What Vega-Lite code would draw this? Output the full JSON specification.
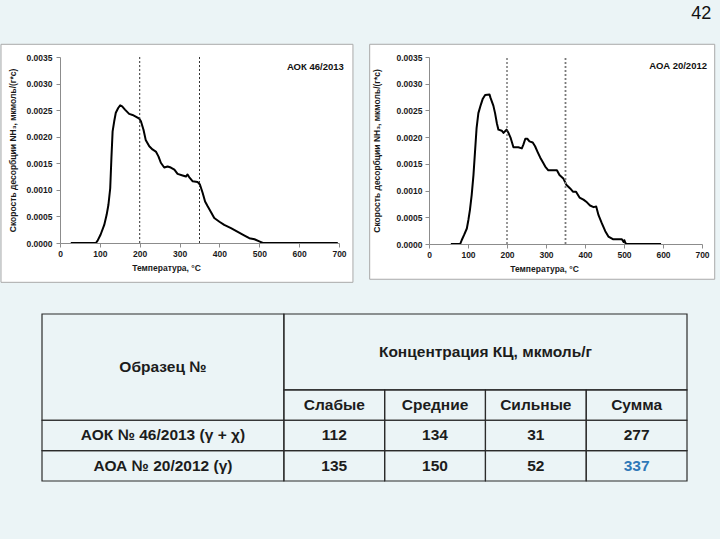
{
  "$schema": "https://vega.github.io/schema/vega-lite/v6.json",
  "background": "#EBF4F6",
  "padding": {"left": 0, "top": 4, "right": 6, "bottom": 57},
  "title": {"text": "42", "anchor": "end", "fontSize": 18, "fontWeight": "normal", "font": "Liberation Sans", "color": "#111111", "offset": 21, "dx": -4},
  "config": {
    "font": "Liberation Sans",
    "view": {"stroke": null},
    "axis": {
      "zindex": 1, "grid": false,
      "domainColor": "#8c8c8c", "tickColor": "#8c8c8c", "tickSize": 4,
      "labelFont": "Liberation Sans", "labelFontWeight": "bold", "labelFontSize": 8.5, "labelColor": "#1a1a1a",
      "titleFont": "Liberation Sans", "titleFontWeight": "bold", "titleFontSize": 8.5, "titleColor": "#1a1a1a",
      "labelFlush": false, "labelOverlap": false
    }
  },
  "datasets": {
    "aok": [
      {"T": 27, "rate": 0}, {"T": 90, "rate": 0}, {"T": 94, "rate": 0.00004}, {"T": 102, "rate": 0.00016},
      {"T": 111, "rate": 0.00034}, {"T": 117, "rate": 0.00053}, {"T": 121.5, "rate": 0.00072}, {"T": 126, "rate": 0.00103},
      {"T": 129, "rate": 0.0016}, {"T": 132, "rate": 0.0021}, {"T": 136, "rate": 0.00229}, {"T": 140, "rate": 0.00245},
      {"T": 146, "rate": 0.00254}, {"T": 151, "rate": 0.00259}, {"T": 156, "rate": 0.00257}, {"T": 163, "rate": 0.00251},
      {"T": 173.5, "rate": 0.00243}, {"T": 182, "rate": 0.00241}, {"T": 190, "rate": 0.00238}, {"T": 199, "rate": 0.00234},
      {"T": 203, "rate": 0.00229}, {"T": 209.5, "rate": 0.00213}, {"T": 215, "rate": 0.00194}, {"T": 224, "rate": 0.00182},
      {"T": 232, "rate": 0.00176}, {"T": 240.5, "rate": 0.00172}, {"T": 247, "rate": 0.00163}, {"T": 253, "rate": 0.00151},
      {"T": 261.5, "rate": 0.00142}, {"T": 270, "rate": 0.00144}, {"T": 278, "rate": 0.00142}, {"T": 287, "rate": 0.00138},
      {"T": 295, "rate": 0.0013}, {"T": 307.6, "rate": 0.00127}, {"T": 316, "rate": 0.00125}, {"T": 320, "rate": 0.00129},
      {"T": 324, "rate": 0.00124}, {"T": 333, "rate": 0.00116}, {"T": 345, "rate": 0.00115}, {"T": 351, "rate": 0.0011},
      {"T": 358, "rate": 0.00094}, {"T": 364, "rate": 0.00078}, {"T": 370.5, "rate": 0.00069}, {"T": 379, "rate": 0.00058},
      {"T": 387, "rate": 0.00047}, {"T": 400, "rate": 0.0004}, {"T": 412, "rate": 0.00034}, {"T": 429, "rate": 0.00028},
      {"T": 446, "rate": 0.00021}, {"T": 463, "rate": 0.00014}, {"T": 475, "rate": 0.00009}, {"T": 488, "rate": 0.00007},
      {"T": 500, "rate": 0.00003}, {"T": 509, "rate": 0}, {"T": 697, "rate": 0}
    ],
    "aoa": [
      {"T": 56, "rate": 0}, {"T": 80, "rate": 0}, {"T": 84, "rate": 0.000075}, {"T": 90, "rate": 0.00017},
      {"T": 97, "rate": 0.00029}, {"T": 101, "rate": 0.00045}, {"T": 105, "rate": 0.00064}, {"T": 109.5, "rate": 0.00092},
      {"T": 114, "rate": 0.00129}, {"T": 118, "rate": 0.00173}, {"T": 122, "rate": 0.00217}, {"T": 126.6, "rate": 0.00245},
      {"T": 132.6, "rate": 0.0026}, {"T": 138, "rate": 0.00272}, {"T": 144, "rate": 0.00279}, {"T": 155, "rate": 0.0028},
      {"T": 158, "rate": 0.00273}, {"T": 165, "rate": 0.00259}, {"T": 169.4, "rate": 0.00245}, {"T": 174, "rate": 0.00226},
      {"T": 178, "rate": 0.00214}, {"T": 186.5, "rate": 0.00212}, {"T": 191, "rate": 0.00208}, {"T": 195, "rate": 0.00211},
      {"T": 199, "rate": 0.00214}, {"T": 203.7, "rate": 0.00208}, {"T": 209.6, "rate": 0.00198}, {"T": 216.5, "rate": 0.00181},
      {"T": 229, "rate": 0.00181}, {"T": 238, "rate": 0.00179}, {"T": 242, "rate": 0.00186}, {"T": 247, "rate": 0.00197},
      {"T": 252, "rate": 0.00197}, {"T": 257.6, "rate": 0.00192}, {"T": 266, "rate": 0.0019}, {"T": 272, "rate": 0.00183},
      {"T": 278, "rate": 0.00173}, {"T": 285, "rate": 0.00162}, {"T": 292, "rate": 0.00153}, {"T": 298, "rate": 0.00145},
      {"T": 306, "rate": 0.00138}, {"T": 328, "rate": 0.00138}, {"T": 334.6, "rate": 0.00129}, {"T": 345, "rate": 0.00122},
      {"T": 352, "rate": 0.00111}, {"T": 362, "rate": 0.00104}, {"T": 369, "rate": 0.00098}, {"T": 377, "rate": 0.00098},
      {"T": 386, "rate": 0.00087}, {"T": 396, "rate": 0.00083}, {"T": 405, "rate": 0.00078}, {"T": 413, "rate": 0.00072},
      {"T": 422, "rate": 0.00069}, {"T": 428.7, "rate": 0.0007}, {"T": 434.7, "rate": 0.00054}, {"T": 443, "rate": 0.00039},
      {"T": 452, "rate": 0.00024}, {"T": 460, "rate": 0.00014}, {"T": 471.5, "rate": 0.00009}, {"T": 494.6, "rate": 0.00009},
      {"T": 499, "rate": 0.00004}, {"T": 501, "rate": 0.00007}, {"T": 504, "rate": 0.00001}, {"T": 507.5, "rate": 0},
      {"T": 595, "rate": 0}
    ],
    "table": [
      {"text": "Образец №", "c0": 0, "c1": 2.4, "r0": 0, "r1": 3.5, "cx": 1.2, "cy": 1.75},
      {"text": "Концентрация КЦ, мкмоль/г", "c0": 2.4, "c1": 6.4, "r0": 0, "r1": 2.5, "cx": 4.4, "cy": 1.25},
      {"text": "Слабые", "c0": 2.4, "c1": 3.4, "r0": 2.5, "r1": 3.5, "cx": 2.9, "cy": 3},
      {"text": "Средние", "c0": 3.4, "c1": 4.4, "r0": 2.5, "r1": 3.5, "cx": 3.9, "cy": 3},
      {"text": "Сильные", "c0": 4.4, "c1": 5.4, "r0": 2.5, "r1": 3.5, "cx": 4.9, "cy": 3},
      {"text": "Сумма", "c0": 5.4, "c1": 6.4, "r0": 2.5, "r1": 3.5, "cx": 5.9, "cy": 3},
      {"text": "АОК № 46/2013 (γ + χ)", "c0": 0, "c1": 2.4, "r0": 3.5, "r1": 4.5, "cx": 1.2, "cy": 4},
      {"text": "112", "c0": 2.4, "c1": 3.4, "r0": 3.5, "r1": 4.5, "cx": 2.9, "cy": 4},
      {"text": "134", "c0": 3.4, "c1": 4.4, "r0": 3.5, "r1": 4.5, "cx": 3.9, "cy": 4},
      {"text": "31", "c0": 4.4, "c1": 5.4, "r0": 3.5, "r1": 4.5, "cx": 4.9, "cy": 4},
      {"text": "277", "c0": 5.4, "c1": 6.4, "r0": 3.5, "r1": 4.5, "cx": 5.9, "cy": 4},
      {"text": "АОА № 20/2012 (γ)", "c0": 0, "c1": 2.4, "r0": 4.5, "r1": 5.5, "cx": 1.2, "cy": 5},
      {"text": "135", "c0": 2.4, "c1": 3.4, "r0": 4.5, "r1": 5.5, "cx": 2.9, "cy": 5},
      {"text": "150", "c0": 3.4, "c1": 4.4, "r0": 4.5, "r1": 5.5, "cx": 3.9, "cy": 5},
      {"text": "52", "c0": 4.4, "c1": 5.4, "r0": 4.5, "r1": 5.5, "cx": 4.9, "cy": 5},
      {"text": "337", "c0": 5.4, "c1": 6.4, "r0": 4.5, "r1": 5.5, "cx": 5.9, "cy": 5}
    ]
  },
  "spacing": 30,
  "vconcat": [
    {
      "spacing": 15,
      "hconcat": [
        {
          "width": 279, "height": 186,
          "layer": [
            {
              "data": {"values": [{}]},
              "mark": {"type": "rect", "fill": "#ffffff", "stroke": "#a9a9a9", "strokeWidth": 1},
              "encoding": {
                "x": {"datum": -148, "type": "quantitative", "scale": {"domain": [0, 700], "nice": false, "zero": false},
                      "axis": {"zindex": 2, "title": "Температура, °C", "values": [0, 100, 200, 300, 400, 500, 600, 700], "tickCount": 8, "format": "d", "titleX": 106, "titlePadding": 6, "labelPadding": 2}},
                "x2": {"datum": 735},
                "y": {"datum": 0.003739, "type": "quantitative", "scale": {"domain": [0, 0.0035], "nice": false, "zero": false},
                      "axis": {"zindex": 2, "title": "Скорость десорбции NH₃, мкмоль/(г*с)", "values": [0, 0.0005, 0.001, 0.0015, 0.002, 0.0025, 0.003, 0.0035], "tickCount": 8, "format": ".4f", "titlePadding": 9, "labelPadding": 4}},
                "y2": {"datum": -0.00074}
              }
            },
            {
              "data": {"name": "aok"},
              "mark": {"type": "line", "color": "#000000", "strokeWidth": 2, "strokeJoin": "round"},
              "encoding": {
                "x": {"field": "T", "type": "quantitative", "scale": {"domain": [0, 700], "nice": false, "zero": false},
                      "axis": {"zindex": 2, "title": "Температура, °C", "values": [0, 100, 200, 300, 400, 500, 600, 700], "tickCount": 8, "format": "d", "titleX": 106, "titlePadding": 6, "labelPadding": 2}},
                "y": {"field": "rate", "type": "quantitative", "scale": {"domain": [0, 0.0035], "nice": false, "zero": false},
                      "axis": {"zindex": 2, "title": "Скорость десорбции NH₃, мкмоль/(г*с)", "values": [0, 0.0005, 0.001, 0.0015, 0.002, 0.0025, 0.003, 0.0035], "tickCount": 8, "format": ".4f", "titlePadding": 9, "labelPadding": 4}}
              }
            },
            {
              "data": {"values": [{"T": 200}, {"T": 350}]},
              "mark": {"type": "rule", "color": "#333333", "strokeWidth": 1, "strokeDash": [2, 2]},
              "encoding": {
                "x": {"field": "T", "type": "quantitative",
                      "axis": {"zindex": 2, "title": "Температура, °C", "values": [0, 100, 200, 300, 400, 500, 600, 700], "tickCount": 8, "format": "d", "titleX": 106, "titlePadding": 6, "labelPadding": 2}},
                "y": {"datum": 0,
                      "axis": {"zindex": 2, "title": "Скорость десорбции NH₃, мкмоль/(г*с)", "values": [0, 0.0005, 0.001, 0.0015, 0.002, 0.0025, 0.003, 0.0035], "tickCount": 8, "format": ".4f", "titlePadding": 9, "labelPadding": 4}},
                "y2": {"datum": 0.0035}
              }
            },
            {
              "data": {"values": [{"label": "АОК 46/2013"}]},
              "mark": {"type": "text", "align": "right", "baseline": "middle", "fontSize": 9.5, "fontWeight": "bold", "color": "#111111"},
              "encoding": {
                "x": {"datum": 712,
                      "axis": {"zindex": 2, "title": "Температура, °C", "values": [0, 100, 200, 300, 400, 500, 600, 700], "tickCount": 8, "format": "d", "titleX": 106, "titlePadding": 6, "labelPadding": 2}},
                "y": {"datum": 0.003306,
                      "axis": {"zindex": 2, "title": "Скорость десорбции NH₃, мкмоль/(г*с)", "values": [0, 0.0005, 0.001, 0.0015, 0.002, 0.0025, 0.003, 0.0035], "tickCount": 8, "format": ".4f", "titlePadding": 9, "labelPadding": 4}},
                "text": {"field": "label"}
              }
            }
          ]
        },
        {
          "width": 273, "height": 187,
          "layer": [
            {
              "data": {"values": [{}]},
              "mark": {"type": "rect", "fill": "#ffffff", "stroke": "#a9a9a9", "strokeWidth": 1},
              "encoding": {
                "x": {"datum": -152.1, "type": "quantitative", "scale": {"domain": [0, 700], "nice": false, "zero": false},
                      "axis": {"zindex": 2, "title": "Температура, °C", "values": [0, 100, 200, 300, 400, 500, 600, 700], "tickCount": 8, "format": "d", "titleX": 115, "titlePadding": 6, "labelPadding": 2}},
                "x2": {"datum": 732.6},
                "y": {"datum": 0.003738, "type": "quantitative", "scale": {"domain": [0, 0.0035], "nice": false, "zero": false},
                      "axis": {"zindex": 2, "title": "Скорость десорбции NH₃, мкмоль/(г*с)", "values": [0, 0.0005, 0.001, 0.0015, 0.002, 0.0025, 0.003, 0.0035], "tickCount": 8, "format": ".4f", "titlePadding": 15, "labelPadding": 3}},
                "y2": {"datum": -0.00066}
              }
            },
            {
              "data": {"name": "aoa"},
              "mark": {"type": "line", "color": "#000000", "strokeWidth": 2, "strokeJoin": "round"},
              "encoding": {
                "x": {"field": "T", "type": "quantitative", "scale": {"domain": [0, 700], "nice": false, "zero": false},
                      "axis": {"zindex": 2, "title": "Температура, °C", "values": [0, 100, 200, 300, 400, 500, 600, 700], "tickCount": 8, "format": "d", "titleX": 115, "titlePadding": 6, "labelPadding": 2}},
                "y": {"field": "rate", "type": "quantitative", "scale": {"domain": [0, 0.0035], "nice": false, "zero": false},
                      "axis": {"zindex": 2, "title": "Скорость десорбции NH₃, мкмоль/(г*с)", "values": [0, 0.0005, 0.001, 0.0015, 0.002, 0.0025, 0.003, 0.0035], "tickCount": 8, "format": ".4f", "titlePadding": 15, "labelPadding": 3}}
              }
            },
            {
              "data": {"values": [{"T": 200}, {"T": 350}]},
              "mark": {"type": "rule", "strokeDash": [2, 2]},
              "encoding": {
                "x": {"field": "T", "type": "quantitative",
                      "axis": {"zindex": 2, "title": "Температура, °C", "values": [0, 100, 200, 300, 400, 500, 600, 700], "tickCount": 8, "format": "d", "titleX": 115, "titlePadding": 6, "labelPadding": 2}},
                "y": {"datum": 0,
                      "axis": {"zindex": 2, "title": "Скорость десорбции NH₃, мкмоль/(г*с)", "values": [0, 0.0005, 0.001, 0.0015, 0.002, 0.0025, 0.003, 0.0035], "tickCount": 8, "format": ".4f", "titlePadding": 15, "labelPadding": 3}},
                "y2": {"datum": 0.0035},
                "color": {"condition": {"test": "datum.T == 350", "value": "#7a7a7a"}, "value": "#333333"},
                "strokeWidth": {"condition": {"test": "datum.T == 350", "value": 1.8}, "value": 1}
              }
            },
            {
              "data": {"values": [{"label": "АОА  20/2012"}]},
              "mark": {"type": "text", "align": "right", "baseline": "middle", "fontSize": 9.5, "fontWeight": "bold", "color": "#111111"},
              "encoding": {
                "x": {"datum": 712.8,
                      "axis": {"zindex": 2, "title": "Температура, °C", "values": [0, 100, 200, 300, 400, 500, 600, 700], "tickCount": 8, "format": "d", "titleX": 115, "titlePadding": 6, "labelPadding": 2}},
                "y": {"datum": 0.003326,
                      "axis": {"zindex": 2, "title": "Скорость десорбции NH₃, мкмоль/(г*с)", "values": [0, 0.0005, 0.001, 0.0015, 0.002, 0.0025, 0.003, 0.0035], "tickCount": 8, "format": ".4f", "titlePadding": 15, "labelPadding": 3}},
                "text": {"field": "label"}
              }
            }
          ]
        }
      ]
    },
    {
      "width": 627, "height": 167,
      "data": {"name": "table"},
      "layer": [
        {
          "mark": {"type": "rect", "fillOpacity": 0, "stroke": "#2b2b2b", "strokeWidth": 1.2},
          "encoding": {
            "x": {"field": "c0", "type": "quantitative", "scale": {"domain": [0, 6.4], "range": [-18, 627], "nice": false, "zero": false}, "axis": null},
            "x2": {"field": "c1"},
            "y": {"field": "r0", "type": "quantitative", "scale": {"domain": [0, 5.5], "range": [0, 167], "nice": false, "zero": false}, "axis": null},
            "y2": {"field": "r1"}
          }
        },
        {
          "mark": {"type": "text", "fontSize": 15.5, "fontWeight": "bold", "font": "Liberation Sans", "baseline": "middle", "align": "center"},
          "encoding": {
            "x": {"field": "cx", "type": "quantitative", "axis": null},
            "y": {"field": "cy", "type": "quantitative", "axis": null},
            "text": {"field": "text"},
            "color": {"condition": {"test": "datum.text === '337'", "value": "#2E78B8"}, "value": "#1c1c1c"}
          }
        }
      ]
    }
  ]
}
